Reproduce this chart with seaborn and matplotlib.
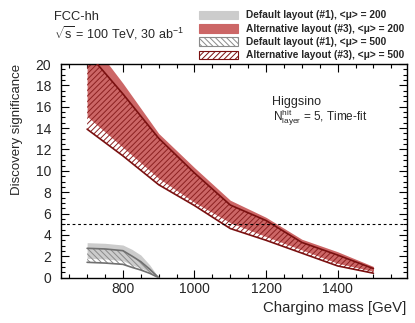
import matplotlib
matplotlib.use('Agg')
import matplotlib.pyplot as plt
import seaborn as sns
from matplotlib.patches import Patch
from matplotlib.ticker import MultipleLocator

# ---------------- data ----------------
mass_alt = [700, 800, 900, 1000, 1100, 1200, 1300, 1400, 1500]
alt200_high = [22.6, 18.2, 13.5, 10.3, 7.25, 5.65, 3.6, 2.43, 1.05]
alt200_low = [15.1, 12.2, 9.3, 7.05, 5.15, 3.85, 2.6, 1.35, 0.6]
alt500_high = [21.1, 17.2, 13.05, 9.8, 6.8, 5.35, 3.3, 2.12, 0.85]
alt500_low = [13.9, 11.4, 8.7, 6.75, 4.6, 3.5, 2.3, 1.1, 0.42]

mass_def = [700, 750, 800, 825, 850, 875, 900]
def200_high = [3.28, 3.22, 3.06, 2.66, 2.12, 1.19, 0.0]
def200_low = [1.81, 1.75, 1.6, 1.19, 0.9, 0.55, 0.0]
def500_high = [2.75, 2.69, 2.53, 2.03, 1.5, 0.79, 0.0]
def500_low = [1.44, 1.37, 1.25, 0.97, 0.72, 0.41, 0.0]

legend_labels = [
    "Default layout (#1), <μ> = 200",
    "Alternative layout (#3), <μ> = 200",
    "Default layout (#1), <μ> = 500",
    "Alternative layout (#3), <μ> = 500",
]
x_ticks = [800, 1000, 1200, 1400]
y_ticks = [0, 2, 4, 6, 8, 10, 12, 14, 16, 18, 20]
discovery_threshold = 5

# ---------------- style ----------------
sns.set_style("ticks")
plt.rcParams['font.family'] = ['Liberation Sans', 'DejaVu Sans']
plt.rcParams['mathtext.fontset'] = 'custom'
plt.rcParams['mathtext.rm'] = 'Liberation Sans'
plt.rcParams['mathtext.it'] = 'Liberation Sans:italic'
plt.rcParams['mathtext.bf'] = 'Liberation Sans:bold'
plt.rcParams['hatch.linewidth'] = 0.7

RED = '#cc6666'
DARKRED = '#7a1010'
ALT_HATCH = '#8b2020'
GREY = '#cccccc'
DARKGREY = '#707070'
DEF_HATCH = '#8a8a8a'

fig = plt.figure(figsize=(4.15, 3.23), dpi=100)
ax = fig.add_axes([61 / 415, 45.3 / 323, 345.7 / 415, 213.7 / 323])

# alternative layout bands
ax.fill_between(mass_alt, alt200_low, alt200_high, facecolor=RED,
                edgecolor=RED, linewidth=0, zorder=1)
plt.rcParams['hatch.color'] = ALT_HATCH
ax.fill_between(mass_alt, alt500_low, alt500_high, facecolor='none',
                edgecolor=ALT_HATCH, linewidth=0, hatch='//////', zorder=2)

# default layout bands
ax.fill_between(mass_def, def200_low, def200_high, facecolor=GREY,
                edgecolor=GREY, linewidth=0, zorder=1)
plt.rcParams['hatch.color'] = DEF_HATCH
ax.fill_between(mass_def, def500_low, def500_high, facecolor='none',
                edgecolor=DEF_HATCH, linewidth=0, hatch='\\\\\\\\\\\\', zorder=2)

# boundary lines
for y in (alt500_high, alt500_low):
    sns.lineplot(x=mass_alt, y=y, color=DARKRED, linewidth=1.2, ax=ax,
                 zorder=3, sort=False)
for y in (def500_high, def500_low):
    sns.lineplot(x=mass_def, y=y, color=DARKGREY, linewidth=1.2, ax=ax,
                 zorder=3, sort=False)

ax.axhline(discovery_threshold, color='black', linewidth=0.8,
           linestyle=(0, (2.5, 2.5)), zorder=4)

ax.set_xlim(627, 1593)
ax.set_ylim(0, 20)
ax.set_xticks(x_ticks)
ax.set_yticks(y_ticks)
ax.xaxis.set_minor_locator(MultipleLocator(50))
ax.yaxis.set_minor_locator(MultipleLocator(0.5))
ax.tick_params(which='both', direction='in', top=True, right=True,
               color='black', width=0.8)
ax.tick_params(which='major', length=5.8, labelsize=10, pad=3)
ax.tick_params(which='minor', length=2.9)
ax.tick_params(axis='y', which='major', pad=7)
for s in ax.spines.values():
    s.set_linewidth(1.0)
    s.set_color('black')

ax.set_xlabel('Chargino mass [GeV]', fontsize=10.8, loc='right', labelpad=4)
ax.set_ylabel('Discovery significance', fontsize=9.5, loc='top', labelpad=9)

# annotations
fig.text(54 / 415, 1 - 20 / 323, 'FCC-hh', fontsize=9.3, va='baseline')
fig.text(54 / 415, 1 - 38.3 / 323, r'$\sqrt{\mathrm{s}}$ = 100 TeV, 30 ab$^{\mathrm{-1}}$',
         fontsize=9.0, va='baseline')
fig.text(271.7 / 415, 1 - 104.5 / 323, 'Higgsino', fontsize=9.0, va='baseline')
fig.text(273 / 415, 1 - 120 / 323,
         r'$\mathrm{N}^{\mathrm{hit}}_{\mathrm{layer}}$ = 5, Time-fit',
         fontsize=8.5, va='baseline')

handles = [
    Patch(facecolor=GREY, edgecolor=GREY, linewidth=0.8),
    Patch(facecolor=RED, edgecolor=RED, linewidth=0.8),
    Patch(facecolor='white', edgecolor=DEF_HATCH, linewidth=0.8, hatch='\\\\\\\\\\\\'),
    Patch(facecolor='white', edgecolor=DARKRED, linewidth=0.8, hatch='//////'),
]
fig.legend(handles, legend_labels, loc='upper left',
           bbox_to_anchor=(199 / 415, 1 - 10.5 / 323), frameon=False,
           borderpad=0, borderaxespad=0, handlelength=3.9, handleheight=0.95,
           handletextpad=0.8, labelspacing=0.33,
           prop={'weight': 'bold', 'size': 7.25})

fig.savefig('out.png', dpi=100)
